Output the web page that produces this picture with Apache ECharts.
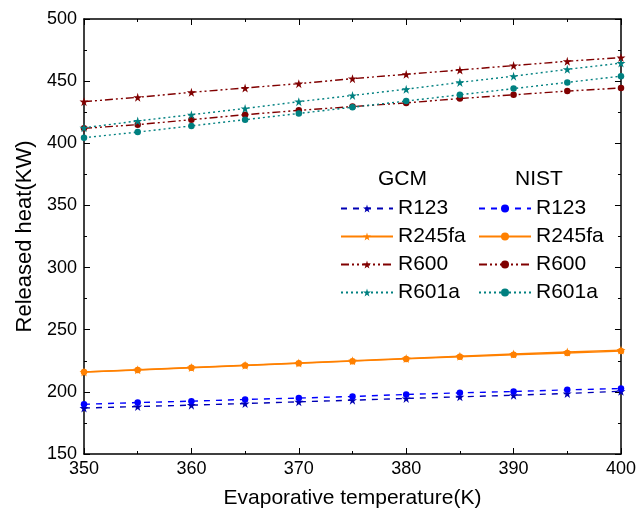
<!DOCTYPE html>
<html>
<head>
<meta charset="utf-8">
<script src="https://cdn.jsdelivr.net/npm/echarts@6/dist/echarts.min.js"></script>
<style>
  html, body { margin: 0; padding: 0; background: #fff; }
  #chart { width: 639px; height: 514px; }
</style>
</head>
<body>
<div id="chart"></div>
<script>
// x 轴：蒸发温度
const temps = [350, 355, 360, 365, 370, 375, 380, 385, 390, 395, 400];

// GCM 结果
const gcmR123 = [187, 188.2, 189.3, 190.6, 192, 193.3, 194.7, 196, 197.3, 198.7, 200.5];
const gcmR245fa = [216, 217.8, 219.6, 221.4, 223.2, 225, 226.8, 228.6, 230.4, 232.1, 233.6];
const gcmR600 = [433.5, 437, 441, 444.5, 448, 452, 455.5, 459, 462.5, 466, 469];
const gcmR601a = [412.5, 418, 423, 428, 433.5, 438.5, 443.5, 449, 454, 459.5, 464.5];

// NIST 结果
const nistR123 = [190, 191.4, 192.5, 193.9, 195, 196.3, 197.9, 199.2, 200.3, 201.6, 202.7];
const nistR245fa = [216, 217.6, 219.4, 221.2, 223, 224.7, 226.5, 228.2, 229.8, 231.3, 232.8];
const nistR600 = [412, 415, 419, 423, 426.5, 429.5, 432.5, 436, 439, 442, 444.5];
const nistR601a = [404.5, 409, 414, 419, 424, 429, 434, 439, 444, 449, 454];

const refrigerants = ["R123", "R245fa", "R600", "R601a"];

// 五角星
const star = "path://M50,0 L61,35 L98,35 L68,57 L79,91 L50,70 L21,91 L32,57 L2,35 L39,35 Z";

const styles = {
  R123: { gcm: "#0000b4", nist: "#0000ff", type: [6, 6] },
  R245fa: { gcm: "#ff8000", nist: "#ff8000", type: "solid" },
  R600: { gcm: "#800000", nist: "#800000", type: [8, 3, 2, 3, 2, 3] },
  R601a: { gcm: "#008080", nist: "#008080", type: [2, 3] },
};

const gcmData = { R123: gcmR123, R245fa: gcmR245fa, R600: gcmR600, R601a: gcmR601a };
const nistData = { R123: nistR123, R245fa: nistR245fa, R600: nistR600, R601a: nistR601a };

function pairs(arr) {
  return temps.map((t, i) => [t, arr[i]]);
}

function makeSeries(group, name, data, color, type) {
  return {
    name: group + " " + name,
    type: "line",
    data: pairs(data),
    symbol: group === "GCM" ? star : "circle",
    symbolSize: group === "GCM" ? 9 : 6.5,
    itemStyle: { color: color },
    lineStyle: { color: color, width: 1.4, type: type },
    animation: false,
  };
}

const series = [];
refrigerants.forEach((r) => {
  series.push(makeSeries("GCM", r, gcmData[r], styles[r].gcm, styles[r].type));
  series.push(makeSeries("NIST", r, nistData[r], styles[r].nist, styles[r].type));
});

const font = "Liberation Sans, Arial, sans-serif";
const axisLine = { show: true, lineStyle: { color: "#000", width: 1.5 } };

const legendBase = {
  orient: "vertical",
  top: 193,
  itemWidth: 52,
  itemHeight: 10,
  itemGap: 7,
  textStyle: { fontFamily: font, fontSize: 21, lineHeight: 21, color: "#000" },
  formatter: (name) => name.split(" ")[1],
};

const option = {
  backgroundColor: "#fff",
  title: [
    { text: "GCM", left: 373, top: 164, textStyle: { fontFamily: font, fontSize: 21, fontWeight: "normal", color: "#000" } },
    { text: "NIST", left: 510, top: 164, textStyle: { fontFamily: font, fontSize: 21, fontWeight: "normal", color: "#000" } },
  ],
  grid: { left: 84, right: 18, top: 19, bottom: 60 },
  legend: [
    Object.assign({}, legendBase, { left: 335, data: refrigerants.map((r) => "GCM " + r) }),
    Object.assign({}, legendBase, { left: 473, data: refrigerants.map((r) => "NIST " + r) }),
  ],
  xAxis: [
    {
      type: "value",
      min: 350,
      max: 400,
      interval: 10,
      name: "Evaporative temperature(K)",
      nameLocation: "middle",
      nameGap: 34,
      nameTextStyle: { fontFamily: font, fontSize: 21, color: "#000" },
      axisLine: axisLine,
      axisTick: { inside: true, length: 6, lineStyle: { color: "#000" } },
      minorTick: { show: true, splitNumber: 2, length: 3, lineStyle: { color: "#000" } },
      axisLabel: { fontFamily: font, fontSize: 18, color: "#000", margin: 6 },
      splitLine: { show: false },
    },
    {
      type: "value",
      position: "top",
      min: 350,
      max: 400,
      interval: 10,
      axisLine: axisLine,
      axisTick: { inside: true, length: 6, lineStyle: { color: "#000" } },
      minorTick: { show: true, splitNumber: 2, length: 3, lineStyle: { color: "#000" } },
      axisLabel: { show: false },
      splitLine: { show: false },
    },
  ],
  yAxis: [
    {
      type: "value",
      min: 150,
      max: 500,
      interval: 50,
      name: "Released heat(KW)",
      nameLocation: "middle",
      nameGap: 45,
      nameTextStyle: { fontFamily: font, fontSize: 22, color: "#000" },
      axisLine: axisLine,
      axisTick: { inside: true, length: 6, lineStyle: { color: "#000" } },
      minorTick: { show: true, splitNumber: 2, length: 3, lineStyle: { color: "#000" } },
      axisLabel: { fontFamily: font, fontSize: 18, color: "#000", margin: 7 },
      splitLine: { show: false },
    },
    {
      type: "value",
      position: "right",
      min: 150,
      max: 500,
      interval: 50,
      axisLine: axisLine,
      axisTick: { inside: true, length: 6, lineStyle: { color: "#000" } },
      minorTick: { show: true, splitNumber: 2, length: 3, lineStyle: { color: "#000" } },
      axisLabel: { show: false },
      splitLine: { show: false },
    },
  ],
  series: series,
};

const myChart = echarts.init(document.getElementById("chart"));
myChart.setOption(option);
</script>
</body>
</html>
